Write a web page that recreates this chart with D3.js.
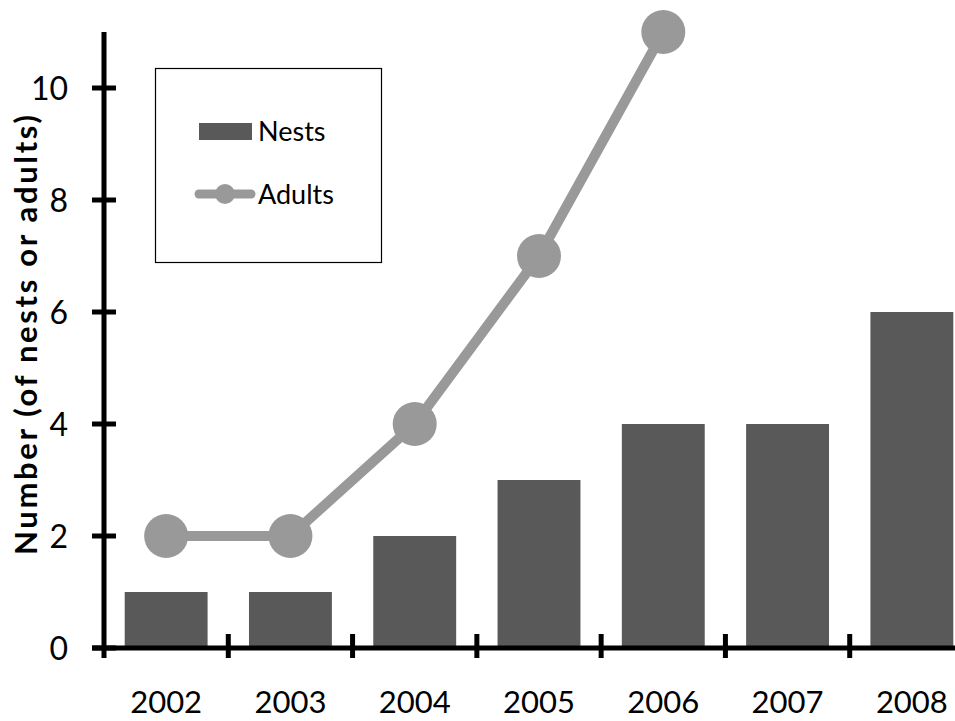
<!DOCTYPE html>
<html lang="en">
<head>
    <meta charset="UTF-8">
    <title>Nests and adults</title>
    <script src="https://cdn.jsdelivr.net/npm/d3@7"></script>
    <style>
        body {
            margin: 0;
            padding: 0;
            background-color: #fff;
        }
        svg text {
            font-family: 'Lato', 'Open Sans', sans-serif;
            fill: #000;
        }
    </style>
</head>
<body>
<svg id="chart" width="955" height="721"></svg>
<script>
    // data
    const years = ["2002", "2003", "2004", "2005", "2006", "2007", "2008"];
    const nests = [1, 1, 2, 3, 4, 4, 6];
    const adults = [2, 2, 4, 7, 11, null, null];
    const yTicks = [0, 2, 4, 6, 8, 10];

    const svg = d3.select("#chart");

    const x = d3.scaleBand()
        .domain(years)
        .range([104, 974])
        .paddingInner(0.333)
        .paddingOuter(0.1665);

    const y = d3.scaleLinear()
        .domain([0, 10])
        .range([648, 88]);

    const step = x.step();

    // bars
    svg.append("g")
        .selectAll("rect")
        .data(years)
        .enter().append("rect")
        .attr("x", d => x(d))
        .attr("y", (d, i) => y(nests[i]))
        .attr("width", x.bandwidth())
        .attr("height", (d, i) => y(0) - y(nests[i]))
        .attr("fill", "#595959");

    // axes
    const axes = svg.append("g").attr("stroke", "#000").attr("stroke-width", 5);

    axes.append("line")
        .attr("x1", 104).attr("x2", 104)
        .attr("y1", y(11)).attr("y2", y(0) + 10);

    axes.append("line")
        .attr("x1", 92).attr("x2", 955)
        .attr("y1", y(0)).attr("y2", y(0));

    axes.selectAll(".ytick")
        .data(yTicks)
        .enter().append("line")
        .attr("x1", 92).attr("x2", 116)
        .attr("y1", d => y(d)).attr("y2", d => y(d));

    axes.selectAll(".xtick")
        .data(years.slice(1))
        .enter().append("line")
        .attr("x1", d => x(d) - step * 0.1665)
        .attr("x2", d => x(d) - step * 0.1665)
        .attr("y1", y(0) - 14).attr("y2", y(0) + 10);

    // tick labels
    svg.append("g")
        .selectAll("text")
        .data(yTicks)
        .enter().append("text")
        .attr("x", 68)
        .attr("y", d => y(d))
        .attr("dy", "0.36em")
        .attr("text-anchor", "end")
        .attr("font-size", 32)
        .text(d => d);

    svg.append("g")
        .selectAll("text")
        .data(years)
        .enter().append("text")
        .attr("x", d => x(d) + x.bandwidth() / 2)
        .attr("y", 713)
        .attr("text-anchor", "middle")
        .attr("font-size", 31)
        .text(d => d);

    svg.append("text")
        .attr("transform", "translate(37,335) rotate(-90)")
        .attr("text-anchor", "middle")
        .attr("font-size", 31)
        .attr("font-weight", "bold")
        .attr("textLength", 440)
        .attr("lengthAdjust", "spacing")
        .text("Number (of nests or adults)");

    // adults line
    const pts = years.map((d, i) => ({year: d, v: adults[i]})).filter(p => p.v !== null);

    const line = d3.line()
        .x(p => x(p.year) + x.bandwidth() / 2)
        .y(p => y(p.v));

    svg.append("path")
        .datum(pts)
        .attr("d", line)
        .attr("fill", "none")
        .attr("stroke", "#999999")
        .attr("stroke-width", 10);

    svg.append("g")
        .selectAll("circle")
        .data(pts)
        .enter().append("circle")
        .attr("cx", p => x(p.year) + x.bandwidth() / 2)
        .attr("cy", p => y(p.v))
        .attr("r", 22)
        .attr("fill", "#999999");

    // legend
    const legend = svg.append("g");

    legend.append("rect")
        .attr("x", 155.5).attr("y", 68.5)
        .attr("width", 226).attr("height", 194)
        .attr("fill", "#fff")
        .attr("stroke", "#000")
        .attr("stroke-width", 1.2);

    legend.append("rect")
        .attr("x", 199).attr("y", 123)
        .attr("width", 53).attr("height", 17)
        .attr("fill", "#595959");

    legend.append("text")
        .attr("x", 258).attr("y", 131)
        .attr("dy", "0.36em")
        .attr("font-size", 27)
        .text("Nests");

    legend.append("line")
        .attr("x1", 199).attr("x2", 251)
        .attr("y1", 194).attr("y2", 194)
        .attr("stroke", "#999999")
        .attr("stroke-width", 9)
        .attr("stroke-linecap", "round");

    legend.append("circle")
        .attr("cx", 225).attr("cy", 194)
        .attr("r", 10)
        .attr("fill", "#999999");

    legend.append("text")
        .attr("x", 258).attr("y", 194)
        .attr("dy", "0.36em")
        .attr("font-size", 27)
        .text("Adults");
</script>
</body>
</html>
